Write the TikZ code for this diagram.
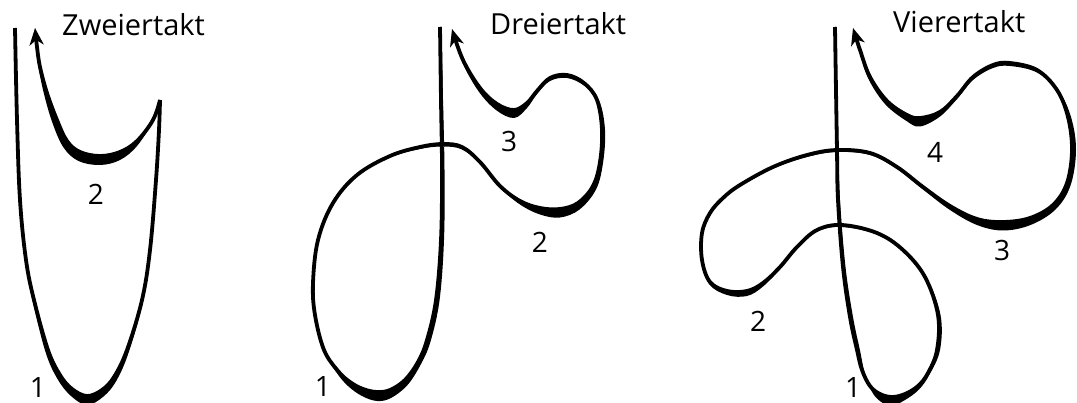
\documentclass[tikz,border=0pt]{standalone}
\usepackage{fontspec}
\setmainfont{Open Sans}
\usetikzlibrary{arrows.meta}
\tikzset{
  pen/.style={line width=3.8pt, line join=round},
  arrowpen/.style={pen, -{Stealth[length=17pt,width=14pt,inset=5pt]}},
  ink/.style={fill=black, draw=none},
  ttl/.style={font=\fontsize{29}{29}\selectfont, inner sep=0pt, anchor=base west},
  num/.style={font=\fontsize{28}{28}\selectfont, inner sep=0pt},
}
\begin{document}
\begin{tikzpicture}[x=1pt,y=-1pt]
\useasboundingbox (0,0) rectangle (1077,403);
% ---------------- Zweiertakt ----------------
\draw[pen] plot[smooth,tension=0.6] coordinates {(15,28) (17,120) (20,200) (26,260) (34,300) (48,350) (60,375) (72,389) (87,396) (102,390) (114,377) (127,350) (142,300) (150,250) (156,180) (159,130) (160,100)};
\fill[ink] plot[smooth,tension=0.6] coordinates {(15,28) (17,120) (20,200) (26,260) (34,300) (48,350) (60,375) (72,389) (87,396) (102,390) (114,377) (127,350) (142,300) (150,250) (156,180) (159,130) (160,100)}
  -- plot[smooth,tension=0.6] coordinates {(160,100) (159,130) (156,180) (150.5,250) (143.2,300.5) (129,351.5) (116.5,380.5) (103.5,396.5) (87,405) (71,396) (57.5,379) (45.5,352) (32.5,300.5) (25,260) (19.5,200) (17,120) (15,28)} -- cycle;
\draw[arrowpen] plot[smooth,tension=0.6] coordinates {(160,100) (153,120) (137,141) (120,152) (100,156) (80,152) (67,141) (57,120) (47,93) (40,67) (37,47) (35,28)};
\fill[ink] plot[smooth,tension=0.6] coordinates {(160,100) (153,120) (137,141) (120,152) (100,156) (80,152) (67,141) (57,120) (47,93) (40,67) (37,47) (35,28)}
  -- plot[smooth,tension=0.6] coordinates {(35,28) (36.5,47) (38.5,67) (44,94) (52.5,123) (63.5,147.5) (78.5,161) (100,165) (120,160) (137,146) (153,121) (160,100)} -- cycle;
\node[ttl] (t1) at (62,36) {Zweiertakt};
\node[num] (a1) at (38,388) {1};
\node[num] (a2) at (96,194) {2};
% ---------------- Dreiertakt ----------------
\draw[arrowpen] plot[smooth,tension=0.6] coordinates {(440,27) (441,100) (442,170) (441,240) (436,300) (427,340) (418,362) (405,380) (390,390) (377,392) (363,389) (350,382) (338,371) (324,350) (315,315) (313,283) (318,240) (333,203) (357,175) (390,156) (420,147) (443,144) (462,147) (480,162) (500,186) (520,201) (540,208) (560,209) (578,203) (593,186) (600,162) (602,130) (597,100) (584,83) (567,75) (550,78) (537,91) (527,103) (514,110) (497,104) (480,88) (463,60) (452,29)};
\fill[ink] plot[smooth,tension=0.6] coordinates {(440,27) (441,100) (442,170) (441,240) (436,300) (427,340) (418,362) (405,380) (390,390) (377,392) (363,389) (350,382) (338,371) (324,350) (315,315) (313,283) (318,240) (333,203) (357,175) (390,156) (420,147) (443,144) (462,147) (480,162) (500,186) (520,201) (540,208) (560,209) (578,203) (593,186) (600,162) (602,130) (597,100) (584,83) (567,75) (550,78) (537,91) (527,103) (514,110) (497,104) (480,88) (463,60) (452,29)}
  -- plot[smooth,tension=0.6] coordinates {(452,29) (461.5,60.5) (478,90.5) (496,110) (514,118) (527,108) (537,94) (550,81) (567,78) (584,85.5) (599,100.5) (605,130) (603,163) (596,189.5) (579.5,209.5) (560,217.5) (540,214.5) (520,204.5) (500,187.5) (480.5,164) (462,149.5) (443,146.5) (420,149) (390,157.5) (357,176) (333,203) (318,240) (313,283) (315,315) (323.5,350) (336.5,372.5) (348,386) (362,396) (377,401) (391,398) (407.5,385) (421,364) (430.5,341.5) (439.5,300.5) (444,240) (444.5,170) (443,100) (441.5,27)} -- cycle;
\node[ttl] (t2) at (490,35) {Dreiertakt};
\node[num] (b1) at (323,387) {1};
\node[num] (b2) at (540,242) {2};
\node[num] (b3) at (509,142) {3};
% ---------------- Vierertakt ----------------
\draw[arrowpen] plot[smooth,tension=0.6] coordinates {(835,27) (836,90) (837,150) (838,200) (843,267) (850,317) (857,350) (862,370) (870,386) (880,394) (892,397) (905,394) (918,386) (928,373) (937,350) (938,315) (925,277) (903,250) (877,233) (842,225) (817,230) (797,247) (780,267) (763,283) (747,291) (727,291) (710,282) (702,260) (702,233) (710,213) (723,198) (740,185) (773,167) (807,155) (837,150) (870,153) (897,167) (923,187) (950,206) (977,219) (1003,222) (1030,218) (1053,205) (1067,183) (1072,150) (1068,117) (1057,90) (1037,70) (1010,63) (993,65) (973,77) (957,96) (940,112) (920,118) (907,115) (887,101) (870,77) (860,50) (853,28)};
\fill[ink] plot[smooth,tension=0.6] coordinates {(835,27) (836,90) (837,150) (838,200) (843,267) (850,317) (857,350) (862,370) (870,386) (880,394) (892,397) (905,394) (918,386) (928,373) (937,350) (938,315) (925,277) (903,250) (877,233) (842,225) (817,230) (797,247) (780,267) (763,283) (747,291) (727,291) (710,282) (702,260) (702,233) (710,213) (723,198) (740,185) (773,167) (807,155) (837,150) (870,153) (897,167) (923,187) (950,206) (977,219) (1003,222) (1030,218) (1053,205) (1067,183) (1072,150) (1068,117) (1057,90) (1037,70) (1010,63) (993,65) (973,77) (957,96) (940,112) (920,118) (907,115) (887,101) (870,77) (860,50) (853,28)}
  -- plot[smooth,tension=0.6] coordinates {(853,28) (859,50) (868,78) (885,104) (906.5,121) (920,126.5) (940,116.5) (957,99) (973,80) (993,68) (1010,66) (1037,72.5) (1058.5,91) (1071,117) (1076,150) (1070.5,185.5) (1055.5,209.5) (1030.5,225) (1003,230.5) (977,225) (950,210) (923,189.5) (897,169) (870,155) (837,152) (807,157) (773,168.5) (740,186) (723,198) (710,213) (702,233) (701.5,260) (709,284) (727,295) (747,296) (763,286.5) (780,269) (797,248) (817,231.5) (842,227) (877,234.5) (903,251.5) (926.5,278) (940.5,315) (940,350) (929.5,374.5) (919,389.5) (905,400) (892,405.5) (880.5,401.5) (871.5,391) (864.5,372) (860,350.5) (853,317) (845.5,267) (840,200) (838.5,150) (837.2,90) (836,27)} -- cycle;
\node[ttl] (t3) at (893,33) {Vierertakt};
\node[num] (c1) at (853,388) {1};
\node[num] (c2) at (758,321) {2};
\node[num] (c3) at (1002,251) {3};
\node[num] (c4) at (935,152) {4};
\end{tikzpicture}
\end{document}
